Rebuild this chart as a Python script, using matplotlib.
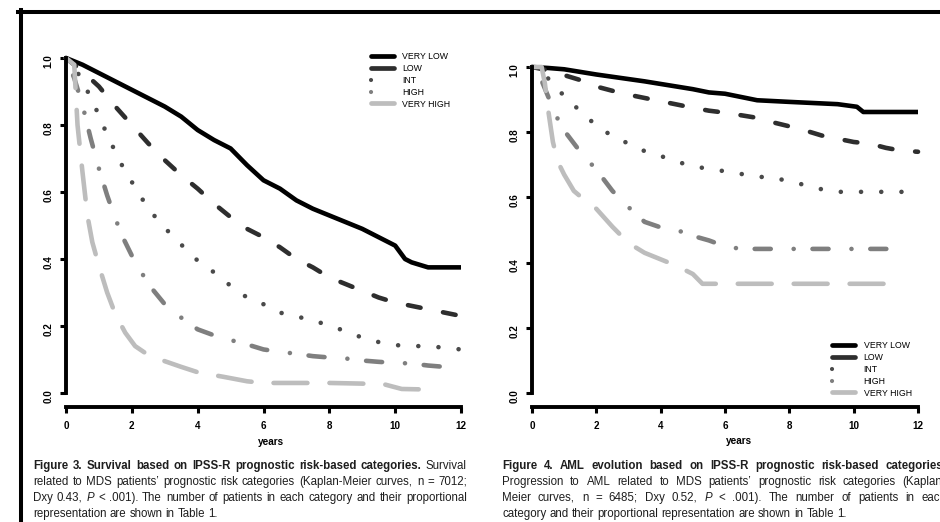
import matplotlib
matplotlib.use('Agg')
import matplotlib.pyplot as plt
from matplotlib.lines import Line2D

plt.rcParams['font.family'] = ['Liberation Sans', 'DejaVu Sans']

W, H = 940, 522

categories = ['VERY LOW', 'LOW', 'INT', 'HIGH', 'VERY HIGH']

# Figure 3 - overall survival (years, proportion surviving)
os_t_vlow = [0, 0.5, 1, 1.5, 2, 2.5, 3, 3.5, 4, 4.5, 5, 5.5, 6, 6.5, 7, 7.5, 8, 8.5, 9, 9.5, 10, 10.3, 10.5, 11, 12]
os_s_vlow = [1.0, 0.98, 0.955, 0.93, 0.905, 0.88, 0.855, 0.825, 0.785, 0.755, 0.73, 0.68, 0.635, 0.61, 0.575,
             0.55, 0.53, 0.51, 0.49, 0.465, 0.44, 0.40, 0.39, 0.375, 0.375]
os_t_low = [0, 0.5, 1, 1.5, 2, 2.5, 3, 3.5, 4, 4.5, 5, 5.5, 6, 6.5, 7, 7.5, 8, 8.5, 9, 9.5, 10, 10.5, 11, 11.5, 12]
os_s_low = [1.0, 0.96, 0.915, 0.855, 0.80, 0.745, 0.695, 0.65, 0.61, 0.565, 0.525, 0.49, 0.465, 0.435, 0.40,
            0.375, 0.345, 0.325, 0.305, 0.285, 0.27, 0.26, 0.25, 0.24, 0.23]
os_t_int = [0, 0.25, 0.5, 0.75, 1, 1.25, 1.5, 1.75, 2, 2.5, 3, 3.5, 4, 4.5, 5, 5.5, 6, 6.5, 7, 7.5, 8, 8.5,
            9, 9.5, 10, 10.5, 11, 11.5, 12]
os_s_int = [1.0, 0.97, 0.935, 0.88, 0.83, 0.77, 0.72, 0.67, 0.63, 0.55, 0.493, 0.443, 0.395, 0.36, 0.32, 0.285,
            0.265, 0.24, 0.228, 0.218, 0.20, 0.185, 0.165, 0.152, 0.143, 0.14, 0.14, 0.135, 0.13]
os_t_high = [0, 0.25, 0.5, 0.75, 1, 1.25, 1.5, 1.75, 2, 2.5, 3, 3.5, 4, 4.5, 5, 5.5, 6, 6.5, 7, 7.5, 8, 8.5,
             9, 9.5, 10, 10.5, 11, 11.5, 12]
os_s_high = [1.0, 0.94, 0.86, 0.76, 0.67, 0.59, 0.52, 0.46, 0.41, 0.325, 0.265, 0.225, 0.19, 0.172, 0.158, 0.145,
             0.13, 0.123, 0.117, 0.11, 0.106, 0.103, 0.097, 0.093, 0.09, 0.088, 0.082, 0.078, 0.075]
os_t_vhigh = [0, 0.25, 0.35, 0.5, 0.65, 0.8, 1, 1.25, 1.5, 1.8, 2.1, 2.4, 3, 3.5, 4, 4.8, 5.5, 6, 7, 8, 9,
              9.7, 10.2, 11.2]
os_s_vhigh = [1.0, 0.98, 0.80, 0.66, 0.53, 0.45, 0.38, 0.30, 0.235, 0.18, 0.14, 0.12, 0.095, 0.078, 0.062, 0.048,
              0.035, 0.03, 0.03, 0.03, 0.028, 0.025, 0.012, 0.01]

# Figure 4 - AML evolution (years, proportion free of AML)
aml_t_vlow = [0, 0.5, 1, 1.5, 2, 2.5, 3, 3.5, 4, 4.5, 5, 5.5, 6, 6.5, 7, 8, 9.5, 10.1, 10.3, 12]
aml_p_vlow = [1.0, 0.997, 0.993, 0.985, 0.977, 0.97, 0.963, 0.956, 0.948, 0.94, 0.932, 0.922, 0.918, 0.908,
              0.898, 0.893, 0.886, 0.878, 0.862, 0.862]
aml_t_low = [0, 0.5, 1, 1.5, 2, 2.5, 3, 3.5, 4, 4.5, 5, 5.5, 6, 6.5, 7, 7.5, 8, 8.5, 9, 9.5, 10, 10.5, 11, 11.5, 12]
aml_p_low = [1.0, 0.99, 0.975, 0.96, 0.94, 0.927, 0.915, 0.905, 0.895, 0.885, 0.875, 0.866, 0.86, 0.852, 0.844,
             0.83, 0.818, 0.805, 0.79, 0.78, 0.77, 0.765, 0.752, 0.743, 0.74]
aml_t_int = [0, 0.25, 0.5, 0.75, 1, 1.5, 2, 2.5, 3, 3.5, 4, 4.5, 5, 5.5, 6, 6.5, 7, 7.5, 8, 8.5, 9, 9.5, 10, 11, 11.8]
aml_p_int = [1.0, 0.99, 0.965, 0.94, 0.91, 0.865, 0.82, 0.788, 0.765, 0.742, 0.727, 0.71, 0.695, 0.688, 0.68,
             0.672, 0.663, 0.662, 0.648, 0.638, 0.625, 0.617, 0.617, 0.617, 0.617]
aml_t_high = [0, 0.25, 0.5, 0.75, 1, 1.5, 2, 2.5, 3, 3.5, 4, 4.5, 5, 5.5, 6, 6.5, 8, 10, 11.6]
aml_p_high = [1.0, 0.97, 0.91, 0.85, 0.805, 0.74, 0.685, 0.62, 0.57, 0.525, 0.508, 0.5, 0.482, 0.468, 0.45,
              0.442, 0.442, 0.442, 0.442]
aml_t_vhigh = [0, 0.3, 0.4, 0.5, 0.65, 0.8, 1, 1.3, 1.6, 2, 2.5, 3, 3.5, 4, 4.5, 5, 5.3, 6, 8, 10, 11.2]
aml_p_vhigh = [1.0, 1.0, 0.95, 0.87, 0.77, 0.71, 0.67, 0.62, 0.595, 0.565, 0.51, 0.46, 0.43, 0.41, 0.39, 0.365,
               0.335, 0.335, 0.335, 0.335, 0.335]

x_ticks = [0, 2, 4, 6, 8, 10, 12]
y_ticks = [0.0, 0.2, 0.4, 0.6, 0.8, 1.0]
y_ticklabels = ['0.0', '0.2', '0.4', '0.6', '0.8', '1.0']

# line look per category (R-style lty 1..5 in grey levels)
colors = {'VERY LOW': '#000000', 'LOW': '#2e2e2e', 'INT': '#4a4a4a', 'HIGH': '#7f7f7f', 'VERY HIGH': '#bdbdbd'}
dashes = {'VERY LOW': None, 'LOW': (2.8, 5.0), 'INT': (0.01, 4.4), 'HIGH': (0.01, 4.1, 3.5, 5.0),
          'VERY HIGH': (7.4, 4.8)}
LW = 3.3

fig = plt.figure(figsize=(W / 100, H / 100), dpi=100)
ax1 = fig.add_axes([66 / W, (H - 393) / H, 395 / W, 335 / H])
ax2 = fig.add_axes([532 / W, (H - 393) / H, 386 / W, 326 / H])


def draw_curves(ax, series):
    for cat, (t, s) in zip(categories, series):
        kw = dict(color=colors[cat], lw=LW, clip_on=False, solid_capstyle='butt',
                  dash_capstyle='round', solid_joinstyle='round')
        if dashes[cat] is not None:
            kw['dashes'] = dashes[cat]
        ax.plot(t, s, **kw)


def style_axes(ax, label_x):
    ax.set_xlim(0, 12)
    ax.set_ylim(0, 1)
    ax.patch.set_visible(False)
    for side in ['top', 'right']:
        ax.spines[side].set_visible(False)
    ax.spines['bottom'].set_position(('outward', 10))
    ax.spines['bottom'].set_bounds(0, 12)
    ax.spines['left'].set_bounds(0, 1)
    for side in ['bottom', 'left']:
        ax.spines[side].set_linewidth(2.8)
    ax.set_xticks(x_ticks)
    ax.set_yticks(y_ticks)
    ax.set_yticklabels(y_ticklabels)
    ax.tick_params(width=2.2, length=4, labelsize=7.1, colors='black')
    ax.tick_params(axis='x', pad=6)
    ax.tick_params(axis='y', pad=5, labelrotation=90)
    for lab in ax.get_xticklabels() + ax.get_yticklabels():
        lab.set_fontweight('bold')
    ax.set_xlabel('years', fontsize=7.2, fontweight='bold')
    ax.xaxis.set_label_coords(label_x, -0.132)


def legend_handles():
    hs = []
    for cat in categories:
        if cat in ('INT', 'HIGH'):
            hs.append(Line2D([], [], color=colors[cat], lw=3.0, dashes=(0.01, 10), dash_capstyle='round'))
        else:
            hs.append(Line2D([], [], color=colors[cat], lw=3.4, solid_capstyle='round'))
    return hs


draw_curves(ax1, [(os_t_vlow, os_s_vlow), (os_t_low, os_s_low), (os_t_int, os_s_int),
                  (os_t_high, os_s_high), (os_t_vhigh, os_s_vhigh)])
draw_curves(ax2, [(aml_t_vlow, aml_p_vlow), (aml_t_low, aml_p_low), (aml_t_int, aml_p_int),
                  (aml_t_high, aml_p_high), (aml_t_vhigh, aml_p_vhigh)])
style_axes(ax1, 0.519)
style_axes(ax2, 0.536)

for ax, (lx, ly) in [(ax1, (371, 52)), (ax2, (832, 341))]:
    ax.legend(legend_handles(), categories, loc='upper left', bbox_to_anchor=(lx / W, 1 - ly / H),
              bbox_transform=fig.transFigure, frameon=False, fontsize=6.3, borderpad=0, borderaxespad=0,
              handlelength=2.6, handletextpad=1.0, labelspacing=0.33)

# page frame (top and left edges of the scanned page)
fig.add_artist(Line2D([18 / W, 1], [1 - 11.5 / H, 1 - 11.5 / H], transform=fig.transFigure,
                      color='black', lw=2.9))
fig.add_artist(Line2D([20.5 / W, 20.5 / W], [1 - 9.5 / H, 0], transform=fig.transFigure,
                      color='black', lw=2.9))

# captions, justified word by word
CAP_SIZE = 8.3
renderer = fig.canvas.get_renderer()


def caption_line(x0, x1, base_y, segments, justify=True):
    arts = []
    for text, kind in segments:
        for word in text.split(' '):
            arts.append(fig.text(0, 1 - base_y / H, word, fontsize=CAP_SIZE, va='baseline', ha='left',
                                 color='#1e1e1e',
                                 fontweight='bold' if kind == 'b' else 'normal',
                                 fontstyle='italic' if kind == 'i' else 'normal'))
    widths = [a.get_window_extent(renderer).width for a in arts]
    gap = CAP_SIZE * 100 / 72 * 0.278
    if justify and len(arts) > 1:
        gap = (x1 - x0 - sum(widths)) / (len(arts) - 1)
    x = x0
    for a, w in zip(arts, widths):
        a.set_x(x / W)
        x += w + gap


left_caption = [
    [('Figure 3. Survival based on IPSS-R prognostic risk-based categories.', 'b'), ('Survival', 'n')],
    [('related to MDS patients\u2019 prognostic risk categories (Kaplan-Meier curves, n = 7012;', 'n')],
    [('Dxy 0.43,', 'n'), ('P', 'i'), ('< .001). The number of patients in each category and their proportional', 'n')],
    [('representation are shown in Table 1.', 'n')],
]
right_caption = [
    [('Figure 4. AML evolution based on IPSS-R prognostic risk-based categories.', 'b')],
    [('Progression to AML related to MDS patients\u2019 prognostic risk categories (Kaplan-', 'n')],
    [('Meier curves, n = 6485; Dxy 0.52,', 'n'), ('P', 'i'), ('< .001). The number of patients in each', 'n')],
    [('category and their proportional representation are shown in Table 1.', 'n')],
]
baselines = [469, 485, 501, 517]
for i, (segs, base) in enumerate(zip(left_caption, baselines)):
    caption_line(33, 467, base, segs, justify=i < 3)
for i, (segs, base) in enumerate(zip(right_caption, baselines)):
    caption_line(502, 946, base, segs, justify=i < 3)

fig.savefig('out.png', dpi=100)
